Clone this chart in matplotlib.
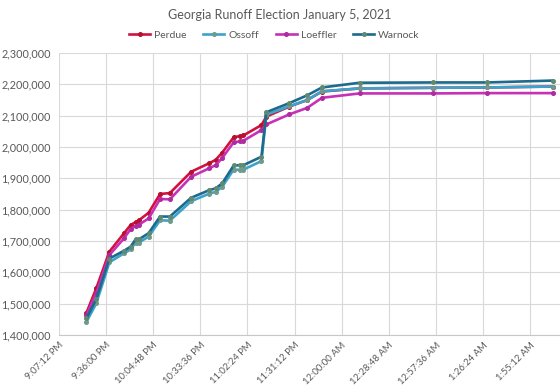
import matplotlib
matplotlib.use("Agg")
import matplotlib.pyplot as plt
from matplotlib.ticker import FuncFormatter, FixedLocator

# ---- data ----
times = ["21:24", "21:30", "21:38", "21:47", "21:51", "21:54", "21:56", "22:02",
         "22:09", "22:15", "22:28", "22:39", "22:43", "22:47", "22:54", "22:58",
         "23:00", "23:11", "23:14", "23:28", "23:39", "23:48", "00:11", "00:56",
         "01:29", "02:09"]

perdue = [1471, 1549, 1666, 1725, 1751, 1760, 1766, 1790, 1850, 1853, 1921, 1948,
          1959, 1982, 2031, 2035, 2037, 2070, 2097, 2129, 2150, 2177, 2187, 2189,
          2190, 2193]
ossoff = [1442, 1501, 1632, 1661, 1673, 1695, 1695, 1714, 1766, 1765, 1827, 1851,
          1857, 1873, 1928, 1927, 1928, 1955, 2103, 2130, 2150, 2178, 2187, 2189,
          2190, 2193]
loeffler = [1464, 1533, 1655, 1709, 1738, 1748, 1752, 1772, 1834, 1833, 1905, 1932,
            1942, 1965, 2015, 2018, 2020, 2054, 2072, 2104, 2125, 2157, 2171, 2171,
            2172, 2172]
warnock = [1453, 1515, 1644, 1669, 1682, 1705, 1705, 1725, 1778, 1778, 1838, 1862,
           1868, 1884, 1941, 1942, 1942, 1969, 2111, 2140, 2165, 2190, 2205, 2206,
           2206, 2212]

series_names = ["Perdue", "Ossoff", "Loeffler", "Warnock"]
tick_labels = ["9:07:12 PM", "9:36:00 PM", "10:04:48 PM", "10:33:36 PM", "11:02:24 PM",
               "11:31:12 PM", "12:00:00 AM", "12:28:48 AM", "12:57:36 AM", "1:26:24 AM",
               "1:55:12 AM"]
y_ticks = [1400000, 1500000, 1600000, 1700000, 1800000, 1900000, 2000000,
           2100000, 2200000, 2300000]
title = "Georgia Runoff Election January 5, 2021"


def to_day(t):
    h, m = map(int, t.split(":"))
    d = (h * 60 + m) / 1440.0
    if h < 12:
        d += 1.0
    return d


def label_to_day(s):
    tpart, ampm = s.split()
    h, m, sec = map(int, tpart.split(":"))
    if ampm == "PM" and h != 12:
        h += 12
    if ampm == "AM" and h == 12:
        h = 0
    d = (h * 3600 + m * 60 + sec) / 86400.0
    if h < 12:
        d += 1.0
    return d


x = [to_day(t) for t in times]
data = [perdue, ossoff, loeffler, warnock]

colors = ["#d21140", "#3ba3cc", "#c631b8", "#1d6a8c"]
mfc = ["#b8102e", "#6f9a8c", "#b02aa0", "#5f8a72"]

plt.rcParams['font.family'] = ['Lato', 'DejaVu Sans']
fig = plt.figure(figsize=(5.6, 3.89), dpi=100)
ax = fig.add_axes([59 / 560, 1 - 335 / 389, 1 - 59 / 560, (335 - 53) / 389])

for name, vals, c, mf in zip(series_names, data, colors, mfc):
    ax.plot(x, [v * 1000 for v in vals], color=c, lw=1.9, marker='o', ms=2.6,
            mfc=mf, mec=mf, label=name, zorder=3)

tick_pos = [label_to_day(s) for s in tick_labels]
x0 = tick_pos[0]
step = tick_pos[1] - tick_pos[0]
ax.set_xlim(x0, x0 + step * (560 - 59) / 47.1)
ax.set_ylim(y_ticks[0], y_ticks[-1])
ax.xaxis.set_major_locator(FixedLocator(tick_pos))
ax.set_xticklabels(tick_labels, rotation=45, ha='right', va='top',
                   rotation_mode='anchor', fontsize=6.8, color='#595959')
ax.set_yticks(y_ticks)
ax.yaxis.set_major_formatter(FuncFormatter(lambda v, p: f"{int(v):,}"))
for lbl in ax.get_yticklabels():
    lbl.set_fontsize(7.8)
    lbl.set_color('#595959')

ax.grid(True, color='#d9d9d9', lw=0.8, zorder=0)
ax.set_axisbelow(True)
for s in ['top', 'right', 'left']:
    ax.spines[s].set_visible(False)
ax.spines['bottom'].set_color('#c8c8c8')
ax.tick_params(axis='y', length=0, pad=6)
ax.tick_params(axis='x', length=0, pad=4)

fig.text(0.5, 1 - 15 / 389, title, ha='center', va='center', fontsize=9,
         color='#595959')
fig.legend(loc='center', bbox_to_anchor=(0.49, 1 - 35 / 389), ncol=4, frameon=False,
           fontsize=7.5, labelcolor='#595959', handlelength=2.0, columnspacing=1.6,
           handletextpad=0.4)

fig.savefig("out.png", dpi=100)
